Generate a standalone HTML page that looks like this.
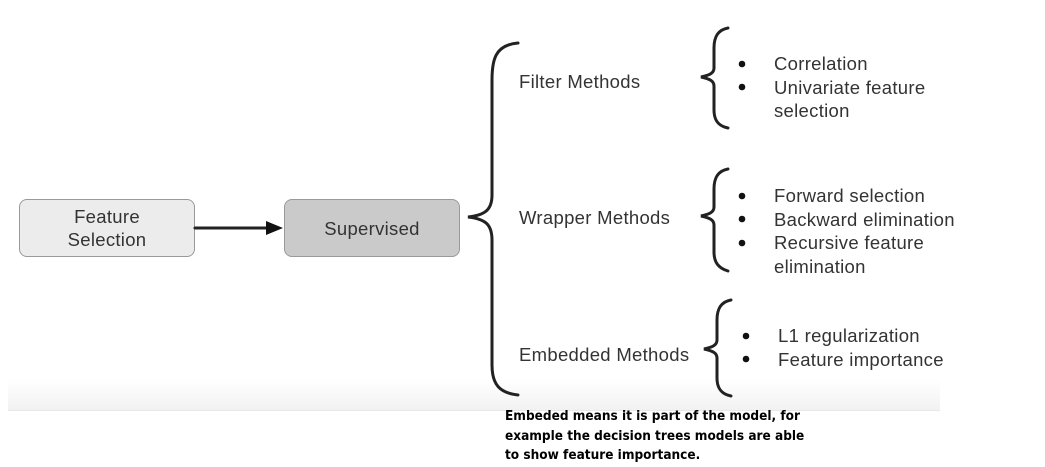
<!DOCTYPE html>
<html><head><meta charset="utf-8"><style>
body{margin:0;width:1045px;height:467px;background:#fff;position:relative;overflow:hidden;font-family:"Liberation Sans",sans-serif;}
.t{position:absolute;color:#333;font-size:18.5px;letter-spacing:0.3px;white-space:nowrap;}
.box{position:absolute;border:1.5px solid #999;border-radius:8px;box-sizing:border-box;display:flex;align-items:center;justify-content:center;text-align:center;color:#333;font-size:18.5px;line-height:23px;letter-spacing:0.3px;}
.note{position:absolute;left:505px;top:407px;font-size:13.5px;font-weight:bold;color:#000;line-height:19.5px;font-family:"DejaVu Sans Condensed","DejaVu Sans",sans-serif;}
</style></head><body>
<div style="position:absolute;left:8px;top:380px;width:932px;height:30px;background:linear-gradient(#fff,#f2f2f2);"></div>
<div style="position:absolute;left:8px;top:410px;width:932px;height:1px;background:#e8e8e8;"></div>
<div class="box" style="left:19px;top:199px;width:176px;height:58px;background:#ececec;">Feature<br>Selection</div>
<div class="box" style="left:284px;top:199px;width:176px;height:58px;background:#cacaca;">Supervised</div>
<svg width="1045" height="467" style="position:absolute;left:0;top:0">
<g fill="none" stroke="#222" stroke-width="3" stroke-linecap="round">
<line x1="195" y1="228" x2="268" y2="228"/>
<path d="M518 43 C495 45 492 60 492 80 L492 195 C492 210 485 215 468 217 C485 219 492 224 492 240 L492 365 C492 385 500 393 518 395"/>
<path d="M728 28 C717 30 714 38 714 48 L714 68 C714 73 710 75 701 77 C710 79 714 81 714 86 L714 110 C714 120 718 126 728 128"/>
<path d="M728 169 C717 171 714 179 714 189 L714 207 C714 212 710 214 701 216 C710 218 714 220 714 225 L714 252 C714 262 718 268 728 271"/>
<path d="M731 300 C720 302 717 310 717 320 L717 340 C717 345 713 347 704 349 C713 351 717 353 717 358 L717 378 C717 388 721 394 731 396"/>
</g>
<polygon points="266,221 283,228 266,235" fill="#111"/>
<g fill="#111">
<circle cx="742" cy="64" r="3.3"/><circle cx="742" cy="87" r="3.3"/>
<circle cx="742" cy="196" r="3.3"/><circle cx="742" cy="219" r="3.3"/><circle cx="742" cy="243" r="3.3"/>
<circle cx="746" cy="336" r="3.3"/><circle cx="746" cy="359" r="3.3"/>
</g>
</svg>
<div class="t" style="left:519px;top:71px;">Filter Methods</div>
<div class="t" style="left:519px;top:207px;">Wrapper Methods</div>
<div class="t" style="left:519px;top:344px;">Embedded Methods</div>
<div class="t" style="left:774px;top:52px;line-height:23.5px;">Correlation<br>Univariate feature<br>selection</div>
<div class="t" style="left:774px;top:184px;line-height:23.5px;">Forward selection<br>Backward elimination<br>Recursive feature<br>elimination</div>
<div class="t" style="left:778px;top:324px;line-height:23.5px;">L1 regularization<br>Feature importance</div>
<div class="note">Embeded means it is part of the model, for<br>example the decision trees models are able<br>to show feature importance.</div>
</body></html>
